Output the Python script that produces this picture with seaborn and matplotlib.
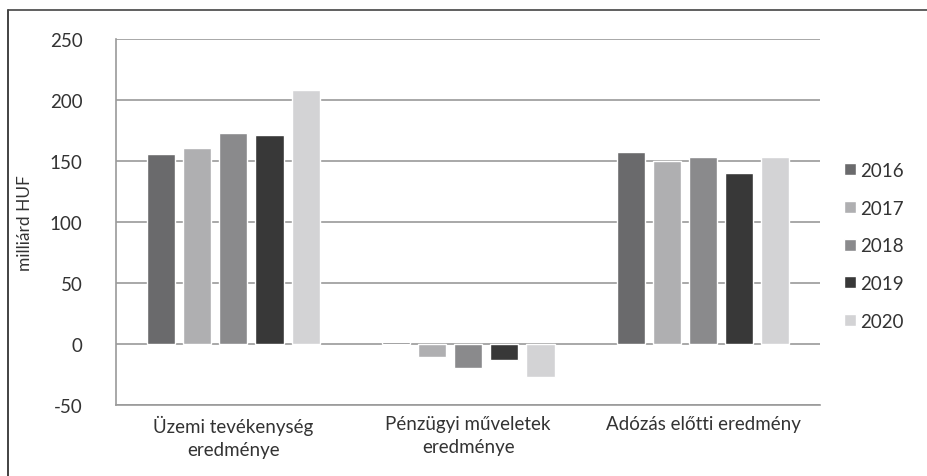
import matplotlib.pyplot as plt
from matplotlib.lines import Line2D
import seaborn as sns
import pandas as pd

# values (milliárd HUF)
categories = ["Üzemi tevékenység\neredménye", "Pénzügyi műveletek\neredménye", "Adózás előtti eredmény"]
years = ["2016", "2017", "2018", "2019", "2020"]
uzemi = [155.5, 161, 173, 171.5, 208]
penzugyi = [1.5, -11, -20, -13.5, -27]
adozas = [157.5, 150, 153.5, 140, 153]
colors = ["#6a6a6c", "#afafb1", "#8a8a8c", "#383838", "#d3d3d5"]

rows = []
for cat, vals in zip(categories, [uzemi, penzugyi, adozas]):
    for yr, v in zip(years, vals):
        rows.append({"cat": cat, "year": yr, "value": v})
df = pd.DataFrame(rows)

sns.set_style("white")
plt.rcParams["font.family"] = ["Lato", "DejaVu Sans"]
plt.rcParams["axes.unicode_minus"] = False

fig = plt.figure(figsize=(9.28, 4.77), dpi=100)
ax = fig.add_axes([0.125, 0.149, 0.759, 0.767])

sns.barplot(data=df, x="cat", y="value", hue="year", palette=colors,
            width=0.77, gap=0.22, ax=ax, saturation=1, zorder=3)

ax.set_ylim(-50, 250)
ax.set_yticks(range(-50, 251, 50))
ax.grid(axis="y", color="#9a9a9a", linewidth=1.2, zorder=0)
ax.set_xlim(-0.5, 2.5)
ax.set_xlabel("")
ax.set_ylabel("milliárd HUF", fontsize=12.5, color="#333333", labelpad=12)
ax.tick_params(axis="both", labelsize=13.5, colors="#333333", length=0)
ax.tick_params(axis="y", pad=24)
ax.tick_params(axis="x", pad=7)
for lbl in ax.get_xticklabels():
    lbl.set_linespacing(1.45)
for s in ["top", "right"]:
    ax.spines[s].set_visible(False)
for s in ["left", "bottom"]:
    ax.spines[s].set_color("#9a9a9a")
    ax.spines[s].set_linewidth(1.2)

leg = ax.legend(loc="center left", bbox_to_anchor=(1.01, 0.435), frameon=False,
                fontsize=13.5, handlelength=0.6, handleheight=0.6, handletextpad=0.25,
                labelspacing=1.1)
for t in leg.get_texts():
    t.set_color("#333333")

# scanned frame edges
fig.add_artist(Line2D([8 / 928, 8 / 928], [0, 1 - 11 / 477], color="#222222", linewidth=1.2))
fig.add_artist(Line2D([8 / 928, 1], [1 - 11 / 477, 1 - 11 / 477], color="#444444", linewidth=1.2))

fig.savefig("out.png", dpi=100)
plt.close()
